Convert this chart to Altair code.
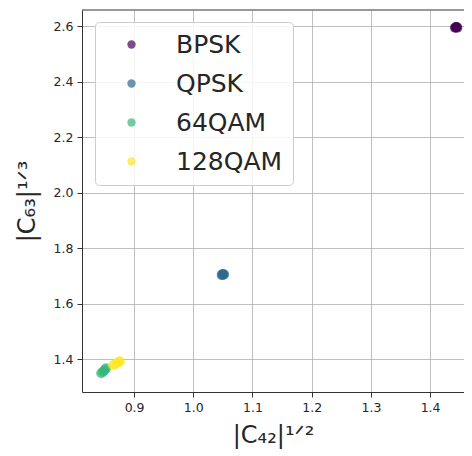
import altair as alt
import pandas as pd

labels = ["BPSK", "QPSK", "64QAM", "128QAM"]
colors = ["#440154", "#31688e", "#35b779", "#fde725"]

bpsk_x = [1.442, 1.444, 1.446, 1.445, 1.443]
bpsk_y = [2.594, 2.597, 2.594, 2.597, 2.595]
qpsk_x = [1.048, 1.051, 1.050, 1.049, 1.052]
qpsk_y = [1.703, 1.706, 1.704, 1.707, 1.705]
qam64_x = [0.8443, 0.8470, 0.8495, 0.8510, 0.8527]
qam64_y = [1.3495, 1.3540, 1.3590, 1.3630, 1.3676]
qam128_x = [0.8645, 0.8680, 0.8710, 0.8740, 0.8764]
qam128_y = [1.3784, 1.3820, 1.3860, 1.3900, 1.3928]

x_ticks = [0.9, 1.0, 1.1, 1.2, 1.3, 1.4]
y_ticks = [1.4, 1.6, 1.8, 2.0, 2.2, 2.4, 2.6]

rows = []
for lab, xs, ys in zip(labels, [bpsk_x, qpsk_x, qam64_x, qam128_x],
                       [bpsk_y, qpsk_y, qam64_y, qam128_y]):
    for xv, yv in zip(xs, ys):
        rows.append({"mod": lab, "c42": xv, "c63": yv})
df = pd.DataFrame(rows)

FONT = "DejaVu Sans"
TXT = "#262626"
W, H = 382, 382

points = alt.Chart(df).mark_circle(size=100, opacity=0.7).encode(
    x=alt.X("c42:Q",
            scale=alt.Scale(domain=[0.812, 0.812 + W / 592.0], nice=False, zero=False),
            axis=alt.Axis(values=x_ticks, format=".1f",
                          title="|C₄₂|¹ᐟ²")),
    y=alt.Y("c63:Q",
            scale=alt.Scale(domain=[1.282, 2.658], nice=False, zero=False),
            axis=alt.Axis(values=y_ticks, format=".1f",
                          title="|C₆₃|¹ᐟ³")),
    color=alt.Color("mod:N",
                    scale=alt.Scale(domain=labels, range=colors),
                    legend=alt.Legend(
                        title=None, orient="none", legendX=13, legendY=12,
                        fillColor="rgba(255,255,255,0.85)",
                        strokeColor="#cccccc", cornerRadius=4,
                        padding=10, symbolOffset=14, labelOffset=32,
                        rowPadding=13, symbolSize=70, symbolType="circle",
                        symbolOpacity=0.7, symbolStrokeWidth=0,
                        labelFontSize=25, labelFont=FONT, labelColor=TXT,
                        labelLimit=300)),
)

top_border = alt.Chart(pd.DataFrame({"k": [0]})).mark_rule(
    color="#333333", strokeWidth=1
).encode(y=alt.value(0), x=alt.value(0), x2=alt.value(W))

chart = alt.layer(points, top_border).properties(
    width=W, height=H,
    autosize=alt.AutoSizeParams(type="none"),
    padding={"left": 74, "top": 2, "right": 0, "bottom": 60},
).configure_view(
    stroke=None,
).configure_axis(
    domain=True, domainColor="#333333", domainWidth=1,
    grid=True, gridColor="#b0b0b0", gridWidth=0.8,
    tickColor="#333333", tickSize=5, tickWidth=1,
    labelFont=FONT, labelFontSize=12.5, labelColor=TXT, labelPadding=4,
    titleFont=FONT, titleFontSize=24, titleColor=TXT, titleFontWeight="normal",
).configure_axisX(
    titlePadding=10,
).configure_axisY(
    titlePadding=14,
)

chart.save("out.html", embed_options={"renderer": "svg", "actions": False})
